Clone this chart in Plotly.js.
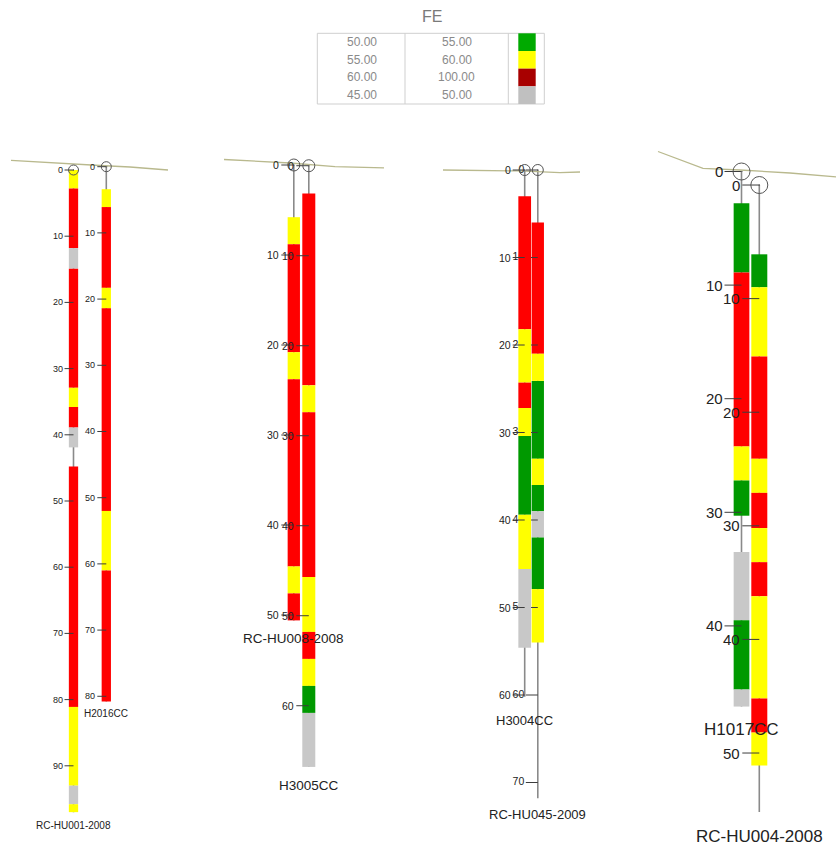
<!DOCTYPE html>
<html><head><meta charset="utf-8">
<script src="https://cdn.plot.ly/plotly-3.0.1.min.js"></script>
<style>html,body{margin:0;padding:0;background:#fff}#chart{width:836px;height:846px}</style>
</head><body><div id="chart"></div>
<script>
// ---------------- DATA ----------------
// FE grade classes (legend)
const feClass = ['A', 'B', 'C', 'D'];
const feLow   = ['50.00', '55.00', '60.00', '45.00'];
const feHigh  = ['55.00', '60.00', '100.00', '50.00'];

// Drill holes
const holeNames    = ['RC-HU001-2008', 'H2016CC', 'RC-HU008-2008', 'H3005CC', 'H3004CC', 'RC-HU045-2009', 'H1017CC', 'RC-HU004-2008'];
const holeDepth    = [97.0, 80.8, 50.6, 66.8, 60.2, 71.8, 47.1, 55.2];
const collarOffset = [0, -0.5, 0, 0.08, 0, 0, 0, 1.19];   // collar depth relative to the section's first collar (m)
const holePanel    = [0, 0, 1, 1, 2, 2, 3, 3];

// Assay intervals (depth from / to in m, FE class)
const rcHu001From = [0, 2.8, 11.8, 14.9, 32.9, 35.8, 38.9, 44.8, 81.1, 93.0, 95.8];
const rcHu001To   = [2.8, 11.8, 14.9, 32.9, 35.8, 38.9, 41.9, 81.1, 93.0, 95.8, 97.0];
const rcHu001Fe   = ['B', 'C', 'D', 'C', 'B', 'C', 'D', 'C', 'B', 'D', 'B'];

const h2016From = [3.4, 6.1, 18.3, 21.4, 52.0, 61.0];
const h2016To   = [6.1, 18.3, 21.4, 52.0, 61.0, 80.8];
const h2016Fe   = ['B', 'C', 'B', 'C', 'B', 'C'];

const rcHu008From = [5.8, 8.8, 20.8, 23.8, 44.6, 47.6];
const rcHu008To   = [8.8, 20.8, 23.8, 44.6, 47.6, 50.6];
const rcHu008Fe   = ['B', 'C', 'B', 'C', 'B', 'C'];

const h3005From = [3.1, 24.4, 27.4, 45.7, 51.8, 54.8, 57.8, 60.8];
const h3005To   = [24.4, 27.4, 45.7, 51.8, 54.8, 57.8, 60.8, 66.8];
const h3005Fe   = ['C', 'B', 'C', 'B', 'C', 'B', 'A', 'D'];

const h3004From = [3.0, 18.2, 24.3, 27.2, 30.4, 39.4, 45.6];
const h3004To   = [18.2, 24.3, 27.2, 30.4, 39.4, 45.6, 54.6];
const h3004Fe   = ['C', 'B', 'C', 'B', 'A', 'B', 'D'];

const rcHu045From = [6.0, 21.0, 24.1, 33.0, 36.0, 39.0, 42.0, 47.9];
const rcHu045To   = [21.0, 24.1, 33.0, 36.0, 39.0, 42.0, 47.9, 54.0];
const rcHu045Fe   = ['C', 'B', 'A', 'B', 'A', 'D', 'A', 'B'];

const h1017From = [2.8, 8.9, 24.2, 27.2, 33.5, 39.5, 45.6];
const h1017To   = [8.9, 24.2, 27.2, 30.3, 39.5, 45.6, 47.1];
const h1017Fe   = ['A', 'C', 'B', 'A', 'D', 'A', 'D'];

const rcHu004From = [6.1, 9.0, 15.1, 24.1, 27.1, 30.2, 33.2, 36.2, 45.2, 48.2];
const rcHu004To   = [9.0, 15.1, 24.1, 27.1, 30.2, 33.2, 36.2, 45.2, 48.2, 51.1];
const rcHu004Fe   = ['A', 'B', 'C', 'B', 'C', 'B', 'C', 'B', 'C', 'B'];

const intervalFrom = [rcHu001From, h2016From, rcHu008From, h3005From, h3004From, rcHu045From, h1017From, rcHu004From];
const intervalTo   = [rcHu001To, h2016To, rcHu008To, h3005To, h3004To, rcHu045To, h1017To, rcHu004To];
const intervalFe   = [rcHu001Fe, h2016Fe, rcHu008Fe, h3005Fe, h3004Fe, rcHu045Fe, h1017Fe, rcHu004Fe];

// Topography profile per section (depth relative to first collar, m)
const topo1Dist = [11, 45, 75, 100, 130, 168];
const topo1Elev = [-1.44, -1.13, -0.83, -0.68, -0.45, 0.0];
const topo2Dist = [224, 260, 290, 335, 384];
const topo2Elev = [-0.61, -0.44, -0.22, 0.17, 0.33];
const topo3Dist = [443, 480, 520, 560, 580];
const topo3Elev = [0, 0.06, 0.11, 0.29, 0.23];
const topo4Dist = [658, 680, 703, 740, 790, 836];
const topo4Elev = [-1.76, -1.01, -0.28, -0.13, 0.13, 0.48];
const topoDist = [topo1Dist, topo2Dist, topo3Dist, topo4Dist];
const topoElev = [topo1Elev, topo2Elev, topo3Elev, topo4Elev];

// ---------------- LAYOUT / STYLE ----------------
const W = 836, H = 846;
const FONT = 'Liberation Sans, Arial, sans-serif';
const barColor    = {A: '#009900', B: '#ffff00', C: '#ff0000', D: '#c8c8c8'};
const legendColor = {A: '#00aa00', B: '#ffff00', C: '#a80000', D: '#c0c0c0'};

const holeX  = [73.5, 106.3, 293.8, 308.8, 524.7, 537.8, 741.5, 759.3];
const barW   = [9.3, 9.3, 12.3, 13, 12.7, 12.3, 15.7, 16];
const panelZeroPx  = [170, 165, 170, 171.5];
const panelPxPerM  = [6.62, 9.0, 8.75, 11.36];
const labelGap     = [10, 13.5, 13, 18];
const tickFontSize = [9, 10.5, 10.5, 15];
const nameFontSize = [10, 13.5, 13, 17];
const circleSize   = [10, 12, 11, 17];
const nameGapPx    = [13, 12, 18, 19, 24, 16, 23, 24];
// drawing layer: hole 4 (H3004CC) is drawn on an upper layer so it hides the labels of its neighbour
const holeAxisIdx  = [0, 0, 1, 1, 4, 2, 3, 3];
const labelsAsTrace = [false, false, false, false, false, true, false, false];
const axisPanel    = [0, 1, 2, 3, 2];

const yName = a => (a === 0 ? 'y' : 'y' + (a + 1));
const yKey  = a => (a === 0 ? 'yaxis' : 'yaxis' + (a + 1));

const traces = [];
const annotations = [];
const shapes = [];

// topography
for (let p = 0; p < 4; p++) {
  traces.push({type: 'scatter', mode: 'lines', x: topoDist[p], y: topoElev[p], xaxis: 'x', yaxis: yName(p),
    line: {color: '#b9b98e', width: 1.3}, hoverinfo: 'skip'});
}

holeNames.forEach((name, h) => {
  const p = holePanel[h], ya = yName(holeAxisIdx[h]), off = collarOffset[h], cx = holeX[h];
  // hole trace line (thin bar under the intervals)
  traces.push({type: 'bar', x: [cx], base: [off], y: [holeDepth[h]], width: [1.6], xaxis: 'x', yaxis: ya,
    marker: {color: '#8a8a8a', line: {width: 0}}, hoverinfo: 'skip'});
  // assay intervals
  const fr = intervalFrom[h], to = intervalTo[h], fe = intervalFe[h];
  traces.push({type: 'bar', x: fr.map(() => cx), base: fr.map(v => v + off), y: fr.map((v, i) => to[i] - v),
    width: fr.map(() => barW[h]), xaxis: 'x', yaxis: ya,
    marker: {color: fe.map(c => barColor[c]), line: {width: 0}}, hoverinfo: 'skip'});

  // depth ticks
  const tx = [], ty = [], lx = [], ly = [], lt = [];
  for (let d = 0; d <= holeDepth[h] + 0.01; d += 10) {
    tx.push(cx - labelGap[p] + 1, cx, null);
    ty.push(d + off, d + off, null);
    if (labelsAsTrace[h]) {
      lx.push(cx - labelGap[p] - 0.5); ly.push(d + off); lt.push(String(d));
    } else {
      annotations.push({xref: 'x', yref: ya, x: cx - labelGap[p] + 1, y: d + off, text: String(d), showarrow: false,
        xanchor: 'right', yanchor: 'middle', font: {family: FONT, size: tickFontSize[p], color: '#222'}});
    }
  }
  if (lt.length) {
    traces.push({type: 'scatter', mode: 'text', x: lx, y: ly, text: lt, textposition: 'middle left', xaxis: 'x', yaxis: ya,
      textfont: {family: FONT, size: tickFontSize[p], color: '#222'}, hoverinfo: 'skip', cliponaxis: false});
  }
  traces.push({type: 'scatter', mode: 'lines', x: tx, y: ty, xaxis: 'x', yaxis: ya,
    line: {color: '#3c3c3c', width: 1}, hoverinfo: 'skip'});
  // collar symbol
  traces.push({type: 'scatter', mode: 'markers', x: [cx], y: [off], xaxis: 'x', yaxis: ya,
    marker: {symbol: 'circle-open-dot', size: circleSize[p], color: '#555', line: {width: 1, color: '#555'}}, hoverinfo: 'skip'});
  // hole name
  annotations.push({xref: 'x', yref: ya, x: cx, y: holeDepth[h] + off, yshift: -nameGapPx[h], text: name, showarrow: false,
    xanchor: 'center', yanchor: 'middle', font: {family: FONT, size: nameFontSize[p], color: '#222'}});
});

// ---------- FE legend table ----------
const py = v => 1 - v / H;
const tL = 317.3, tR = 544.3, tT = 33.3, tB = 104, c1 = 405, c2 = 508.3;
const rowH = (tB - tT) / feClass.length;
shapes.push({type: 'rect', xref: 'x', yref: 'paper', x0: tL, x1: tR, y0: py(tB), y1: py(tT), line: {color: '#cfcfcf', width: 1}, fillcolor: 'rgba(0,0,0,0)'});
shapes.push({type: 'line', xref: 'x', yref: 'paper', x0: c1, x1: c1, y0: py(tB), y1: py(tT), line: {color: '#cfcfcf', width: 1}});
shapes.push({type: 'line', xref: 'x', yref: 'paper', x0: c2, x1: c2, y0: py(tB), y1: py(tT), line: {color: '#cfcfcf', width: 1}});
feClass.forEach((c, i) => {
  const r0 = tT + i * rowH, r1 = r0 + rowH, rm = (r0 + r1) / 2;
  shapes.push({type: 'rect', xref: 'x', yref: 'paper', x0: 518.3, x1: 535.7, y0: py(r1), y1: py(r0), line: {width: 0}, fillcolor: legendColor[c]});
  annotations.push({xref: 'x', yref: 'paper', x: 361.5, y: py(rm), text: feLow[i], showarrow: false, xanchor: 'center', yanchor: 'middle',
    font: {family: FONT, size: 12, color: '#8a8a8a'}});
  annotations.push({xref: 'x', yref: 'paper', x: 456.7, y: py(rm), text: feHigh[i], showarrow: false, xanchor: 'center', yanchor: 'middle',
    font: {family: FONT, size: 12, color: '#8a8a8a'}});
});
annotations.push({xref: 'x', yref: 'paper', x: 431.7, y: py(16.5), text: 'FE', showarrow: false, xanchor: 'center', yanchor: 'middle',
  font: {family: FONT, size: 16, color: '#7a7a7a'}});

const layout = {
  width: W, height: H, margin: {l: 0, r: 0, t: 0, b: 0, pad: 0},
  paper_bgcolor: '#ffffff', plot_bgcolor: '#ffffff', showlegend: false,
  barmode: 'overlay',
  xaxis: {range: [0, W], domain: [0, 1], visible: false, fixedrange: true},
  annotations: annotations, shapes: shapes
};
axisPanel.forEach((p, a) => {
  const z = panelZeroPx[p], s = panelPxPerM[p];
  const ax = {range: [(H - z) / s, -z / s], domain: [0, 1], visible: false, fixedrange: true, anchor: 'x'};
  if (a > 0) ax.overlaying = 'y';
  layout[yKey(a)] = ax;
});

Plotly.newPlot('chart', traces, layout, {staticPlot: true, displayModeBar: false});
</script>
</body></html>
